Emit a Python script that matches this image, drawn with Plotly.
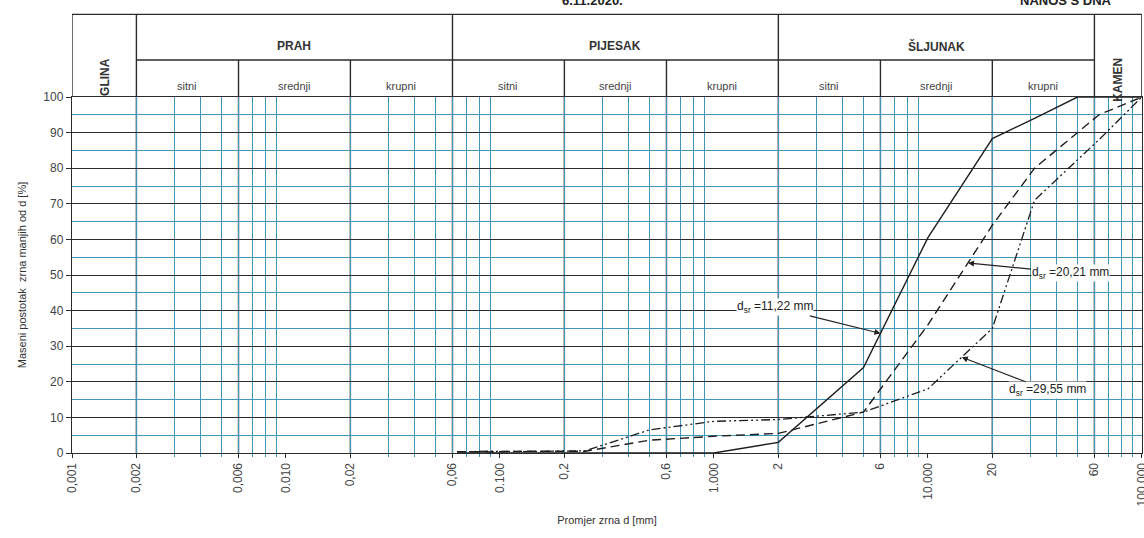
import math
import plotly.graph_objects as go

# granulometric curves (promjer zrna d [mm], prolaz [%])
d_solid = [0.063, 0.09, 0.125, 0.25, 0.5, 1.0, 2.0, 5.0, 10.0, 20.0, 31.5, 50.0, 100.0]
p_solid = [0.0, 0.0, 0.0, 0.0, 0.0, 0.0, 3.0, 24.0, 60.5, 88.3, 94.0, 100.0, 100.0]

d_dash = [0.063, 0.09, 0.125, 0.25, 0.5, 1.0, 2.0, 5.0, 10.0, 20.0, 31.5, 63.0, 100.0]
p_dash = [0.4, 0.3, 0.5, 0.5, 3.6, 4.7, 5.5, 11.5, 36.0, 64.0, 80.0, 95.0, 100.0]

d_dashdot = [0.063, 0.09, 0.125, 0.25, 0.5, 1.0, 2.0, 5.0, 10.0, 20.0, 31.5, 63.0, 100.0]
p_dashdot = [0.3, 0.5, 0.4, 0.6, 6.5, 8.9, 9.4, 11.5, 18.0, 35.0, 71.0, 88.0, 100.0]

# x axis labels
tick_vals = [0.001, 0.002, 0.006, 0.01, 0.02, 0.06, 0.1, 0.2, 0.6, 1, 2, 6, 10, 20, 60, 100]
tick_text = ["0,001", "0,002", "0,006", "0.010", "0,02", "0,06", "0.100", "0,2", "0,6",
             "1.000", "2", "6", "10.000", "20", "60", "100.000"]

# granice frakcija (tamne linije)
bounds = [0.002, 0.006, 0.02, 0.06, 0.2, 0.6, 2, 6, 20, 60]
minor_vals = [k * 10.0 ** e for e in range(-3, 2) for k in range(2, 10)]

groups = [("PRAH", 0.002, 0.06), ("PIJESAK", 0.06, 2), ("ŠLJUNAK", 2, 60)]
subgroups = [("sitni", 0.002, 0.006), ("srednji", 0.006, 0.02), ("krupni", 0.02, 0.06),
             ("sitni", 0.06, 0.2), ("srednji", 0.2, 0.6), ("krupni", 0.6, 2),
             ("sitni", 2, 6), ("srednji", 6, 20), ("krupni", 20, 60)]

labels = [
    ("d<sub>sr</sub> =11,22 mm", 6.0, 33.6, -105, -26),
    ("d<sub>sr</sub> =20,21 mm", 15.4, 53.4, 102, 10),
    ("d<sub>sr</sub> =29,55 mm", 14.4, 26.9, 86, 33),
]

DARK = "#2b2b2b"
BLUE = "#4096bb"
FONT = "Liberation Sans, Arial, sans-serif"

fig = go.Figure()
fig.add_trace(go.Scatter(x=d_solid, y=p_solid, mode="lines",
                         line=dict(color="#1e1e1e", width=1.4)))
fig.add_trace(go.Scatter(x=d_dash, y=p_dash, mode="lines",
                         line=dict(color="#1e1e1e", width=1.4, dash="9px,5px")))
fig.add_trace(go.Scatter(x=d_dashdot, y=p_dashdot, mode="lines",
                         line=dict(color="#1e1e1e", width=1.3, dash="9px,3px,2px,3px,2px,3px")))

shapes = []
for b in bounds:
    shapes.append(dict(type="line", xref="x", yref="paper", x0=b, x1=b, y0=0, y1=1,
                       line=dict(color=DARK, width=1.4), layer="below"))

# header table
top, mid = 1.232, 1.104
line_kw = dict(color=DARK, width=1.4)
shapes.append(dict(type="line", xref="x", yref="paper", x0=0.001, x1=100, y0=top, y1=top, line=line_kw))
shapes.append(dict(type="line", xref="x", yref="paper", x0=0.002, x1=60, y0=mid, y1=mid, line=line_kw))
for b in [0.001, 0.002, 0.06, 2, 60, 100]:
    shapes.append(dict(type="line", xref="x", yref="paper", x0=b, x1=b, y0=1, y1=top, line=line_kw))
for b in [0.006, 0.02, 0.2, 0.6, 6, 20]:
    shapes.append(dict(type="line", xref="x", yref="paper", x0=b, x1=b, y0=1, y1=mid, line=line_kw))

annotations = []
for name, a, b in groups:
    annotations.append(dict(text=f"<b>{name}</b>", xref="x", yref="paper",
                            x=(math.log10(a) + math.log10(b)) / 2, y=(top + mid) / 2,
                            showarrow=False, font=dict(size=12, color="#333")))
for name, a, b in subgroups:
    annotations.append(dict(text=name, xref="x", yref="paper",
                            x=(math.log10(a) + math.log10(b)) / 2, y=(mid + 1) / 2,
                            showarrow=False, font=dict(size=11, color="#444")))
for name, a, b in [("GLINA", 0.001, 0.002), ("KAMEN", 60, 100)]:
    annotations.append(dict(text=f"<b>{name}</b>", xref="x", yref="paper",
                            x=(math.log10(a) + math.log10(b)) / 2, y=(top + 1) / 2,
                            textangle=-90, showarrow=False, font=dict(size=12, color="#333")))

for txt, x, y, ax, ay in labels:
    annotations.append(dict(text=txt, x=math.log10(x), y=y, xref="x", yref="y",
                            ax=ax, ay=ay, showarrow=True, arrowhead=2, arrowsize=1,
                            arrowwidth=1.2, arrowcolor="#222", bgcolor="white",
                            font=dict(size=12, color="#222"), borderpad=0))

# naslovi na vrhu lista (odrezani skenom)
annotations.append(dict(text="<b>6.11.2020.</b>", xref="paper", yref="paper",
                        x=0.486, y=1.243, xanchor="center", yanchor="bottom", showarrow=False,
                        font=dict(size=13, color="#222")))
annotations.append(dict(text="<b>NANOS S DNA</b>", xref="paper", yref="paper",
                        x=0.929, y=1.243, xanchor="center", yanchor="bottom", showarrow=False,
                        font=dict(size=13, color="#222")))

fig.update_layout(
    width=1144, height=538,
    margin=dict(l=72, r=2, t=97, b=85, autoexpand=False),
    paper_bgcolor="white", plot_bgcolor="white",
    showlegend=False,
    font=dict(family=FONT, size=11, color="#333"),
    shapes=shapes,
    annotations=annotations,
)

fig.update_xaxes(
    type="log", range=[-3, 2.0005], automargin=False,
    tickvals=tick_vals, ticktext=tick_text, tickangle=-90,
    tickfont=dict(size=12, color="#444"), ticklabeloverflow="allow",
    showgrid=False, ticks="outside", ticklen=4, tickcolor=DARK,
    minor=dict(tickmode="array", tickvals=minor_vals, showgrid=True,
               gridcolor=BLUE, gridwidth=1, ticks="outside", ticklen=3, tickcolor=BLUE),
    showline=True, linecolor=DARK, linewidth=1.4, mirror=True,
    title=dict(text="Promjer zrna d [mm]", font=dict(size=11, color="#333"), standoff=10),
    zeroline=False,
)
fig.update_yaxes(
    range=[0, 100], dtick=10, automargin=False,
    tickfont=dict(size=12, color="#444"),
    showgrid=True, gridcolor=DARK, gridwidth=1.3,
    ticks="outside", ticklen=5, tickcolor=DARK,
    minor=dict(dtick=5, showgrid=True, gridcolor=BLUE, gridwidth=1.2),
    showline=True, linecolor=DARK, linewidth=1.4, mirror=True,
    title=dict(text="Maseni postotak  zrna manjih od d [%]", font=dict(size=11, color="#333"),
               standoff=14),
    zeroline=False,
)

# default page body has an 8px margin; drop it so the figure sits at the window corner
fig.write_html("out.html", config={"displayModeBar": False},
               post_script="document.body.style.margin='0px';")
